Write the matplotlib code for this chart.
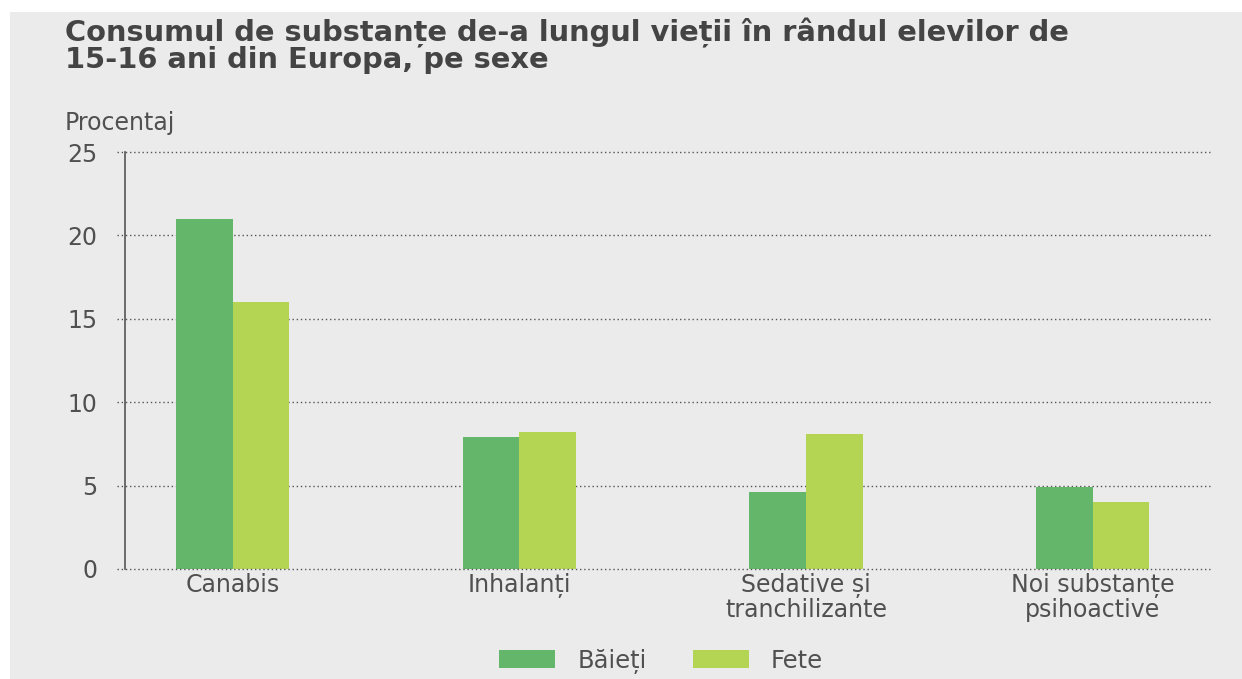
import matplotlib.pyplot as plt
import numpy as np
from matplotlib.patches import Rectangle

categories = ["Canabis", "Inhalanți", "Sedative și\ntranchilizante", "Noi substanțe\npsihoactive"]
baieti = [21.0, 7.9, 4.6, 4.9]
fete = [16.0, 8.2, 8.1, 4.0]
yticks = [0, 5, 10, 15, 20, 25]

bg = "#ebebeb"
c_baieti = "#64b66a"
c_fete = "#b4d454"
txt = "#505050"

plt.rcParams['font.family'] = ['DejaVu Sans']

fig = plt.figure(figsize=(12.42, 6.79), dpi=100, facecolor="white")
fig.patches.append(Rectangle((10 / 1242, 0), 1, 1 - 12 / 679, transform=fig.transFigure,
                             facecolor=bg, edgecolor="none", zorder=-5))

ax = fig.add_axes([125 / 1242, 1 - 569 / 679, (1210 - 125) / 1242, (569 - 152) / 679])
ax.set_facecolor(bg)

x = np.arange(len(categories))
w = 0.198
ax.bar(x - w / 2, baieti, width=w, color=c_baieti, label="Băieți", zorder=3)
ax.bar(x + w / 2, fete, width=w, color=c_fete, label="Fete", zorder=3)

ax.set_xlim(-0.376, 3.41)
ax.set_ylim(0, 25)
ax.set_yticks(yticks)
ax.set_xticks(x)
ax.set_xticklabels(categories, fontsize=17, color=txt, linespacing=1.0)
ax.tick_params(axis="y", labelsize=17, labelcolor=txt, length=0, pad=20)
ax.tick_params(axis="x", length=0, pad=3)

# dotted gridlines, drawn past the axes edge at 0 and 25
for yv in yticks:
    ax.axhline(yv, xmin=-0.007, xmax=1, linestyle=(0, (1, 2)), color="#555555",
               linewidth=1, zorder=4 if yv == 0 else 1, clip_on=False)
for s in ["top", "right", "bottom"]:
    ax.spines[s].set_visible(False)
ax.spines["left"].set_linestyle((0, (1, 1)))
ax.spines["left"].set_color("#555555")
ax.spines["left"].set_linewidth(1.2)

fig.text(65 / 1242, 1 - 18 / 679,
         "Consumul de substanțe de-a lungul vieții în rândul elevilor de\n15-16 ani din Europa, pe sexe",
         fontsize=20.8, fontweight="bold", color="#444444", va="top", ha="left", linespacing=0.92)
fig.text(65 / 1242, 1 - 123 / 679, "Procentaj", fontsize=17, color=txt, va="center", ha="left")

fig.legend(loc="center", bbox_to_anchor=(661 / 1242, 1 - 661 / 679), ncol=2, frameon=False,
           fontsize=17.5, labelcolor=txt, handlelength=2.3, handleheight=0.75, columnspacing=1.9,
           handletextpad=0.9)

fig.savefig("out.png", dpi=100, facecolor="white")
